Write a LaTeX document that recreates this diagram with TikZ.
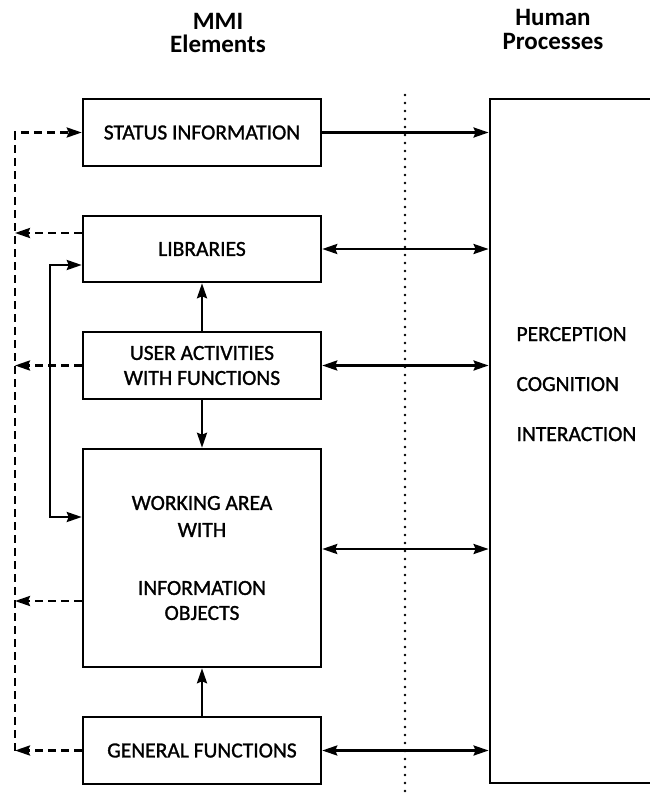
\documentclass[tikz,border=0pt]{standalone}
\usepackage{fontspec}
\setmainfont{Carlito}
\newfontfamily\boxfont{Carlito}[FakeBold=1.2]
\usetikzlibrary{arrows.meta}
\tikzset{
  elem/.style={draw,line width=2.5pt,minimum width=238pt,align=center,font=\boxfont\fontsize{21.5}{25}\selectfont},
  proc/.style={anchor=base west,font=\boxfont\fontsize{21.5}{25}\selectfont},
  head/.style={anchor=base,font=\bfseries\fontsize{25}{25}\selectfont},
  link/.style={line width=2.5pt},
  fb/.style={line width=2.5pt,dash pattern=on 8pt off 5pt},
}
\begin{document}
\begin{tikzpicture}[x=1pt,y=-1pt,>={Stealth[length=15pt,width=10pt,inset=2pt]}]
  \useasboundingbox (0,0) rectangle (650,798);
  \clip (0,0) rectangle (650,798);
  \node[head] (mmi) at (218,29) {MMI};
  \node[head] (elements) at (218,52) {Elements};
  \node[head] (human1) at (553,25) {Human};
  \node[head] (human2) at (553,49) {Processes};
  % MMI elements
  \node[elem,minimum height=67pt] (status) at (202,132.5) {STATUS INFORMATION};
  \node[elem,minimum height=66pt] (lib) at (202,249) {LIBRARIES};
  \node[elem,minimum height=67pt] (user) at (202,365.5) {USER ACTIVITIES\\WITH FUNCTIONS};
  \node[elem,minimum height=218pt] (work) at (202,558) {WORKING AREA\\[2pt]WITH\\[33pt]INFORMATION\\OBJECTS};
  \node[elem,minimum height=67pt] (gen) at (202,750.5) {GENERAL FUNCTIONS};
  % human processes
  \node[draw,line width=2.8pt,minimum width=210pt,minimum height=684pt] (human) at (595,441) {};
  \node[proc] (perc) at (513,341) {PERCEPTION};
  \node[proc] (cogn) at (513,391) {COGNITION};
  \node[proc] (inter) at (513,441) {INTERACTION};
  \coordinate (divtop) at (405,95);
  \coordinate (divbot) at (405,798);
  \draw[line width=2.8pt,line cap=round,dash pattern=on 0pt off 8pt] (divtop) -- (divbot);
  \draw[link,->] (status.east) -- (status.east -| human.west);
  \draw[link,<->] (lib.east) -- (lib.east -| human.west);
  \draw[link,<->] (user.east) -- (user.east -| human.west);
  \coordinate (workout) at ([yshift=9pt]work.east);
  \draw[link,<->] (workout) -- (workout -| human.west);
  \draw[link,<->] (gen.east) -- (gen.east -| human.west);
  \draw[link,->] (user) -- (lib);
  \draw[link,->] (user) -- (work);
  \draw[link,->] (gen) -- (work);
  % feedback lines on the left
  \coordinate (rail) at (15,0);
  \coordinate (loop) at (50,0);
  \coordinate (libout) at ([yshift=16pt]lib.west);
  \coordinate (libin) at ([yshift=-16pt]lib.west);
  \coordinate (workin) at ([yshift=41pt]work.west);
  \coordinate (workfb) at ([yshift=-43pt]work.west);
  \draw[fb,->] (rail |- gen.west) -- (rail |- status.west) -- (status.west);
  \draw[fb,->] (libout) -- (rail |- libout);
  \draw[fb,->] (user.west) -- (rail |- user.west);
  \draw[fb,->] (workfb) -- (rail |- workfb);
  \draw[fb,->] (gen.west) -- (rail |- gen.west);
  \draw[link,<->] (libin) -- (loop |- libin) -- (loop |- workin) -- (workin);
\end{tikzpicture}
\end{document}
